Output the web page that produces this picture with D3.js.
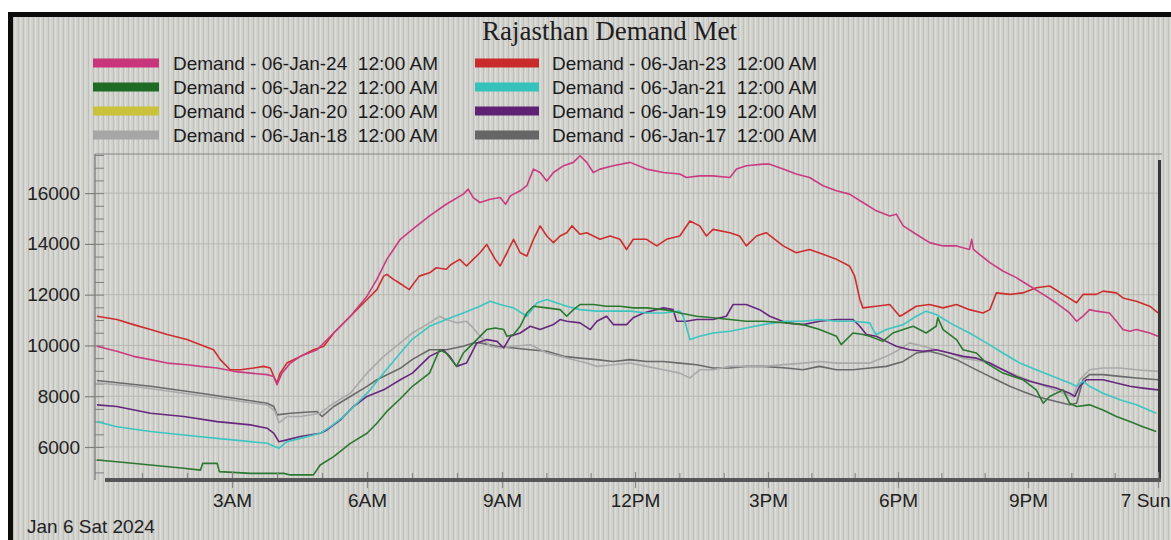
<!DOCTYPE html>
<html><head><meta charset="utf-8">
<script src="https://cdn.jsdelivr.net/npm/d3@7"></script>
<style>html,body{margin:0;padding:0;background:#fff;overflow:hidden}svg{display:block}</style>
</head><body>
<svg id="chart" width="1171" height="540"></svg>
<script>
// ---------- DATA ----------
const chartTitle = "Rajasthan Demand Met";
const dateLabel = "Jan 6 Sat 2024";
const legendLeft = ["Demand - 06-Jan-24  12:00 AM","Demand - 06-Jan-22  12:00 AM","Demand - 06-Jan-20  12:00 AM","Demand - 06-Jan-18  12:00 AM"];
const legendRight = ["Demand - 06-Jan-23  12:00 AM","Demand - 06-Jan-21  12:00 AM","Demand - 06-Jan-19  12:00 AM","Demand - 06-Jan-17  12:00 AM"];
const xTickHours = [3,6,9,12,15,18,21,24];
const xTickLabels = ["3AM","6AM","9AM","12PM","3PM","6PM","9PM","7 Sun"];
const yTickValues = [6000,8000,10000,12000,14000,16000];

// [hour of day, MW]
const demand2024 = [[0,9965],[0.44,9770],[0.81,9570],[1.19,9440],[1.56,9305],[2,9240],[2.3,9175],[2.67,9110],[3.04,8980],[3.41,8910],[3.78,8850],[3.93,8780],[4,8450],[4.11,8910],[4.3,9305],[4.52,9570],[4.89,9830],[5.26,10490],[5.63,11150],[6,11940],[6.22,12600],[6.44,13390],[6.74,14180],[7.01,14570],[7.39,15100],[7.76,15560],[8.14,15960],[8.25,16155],[8.36,15825],[8.51,15630],[8.74,15760],[8.96,15825],[9.08,15560],[9.19,15890],[9.41,16090],[9.56,16290],[9.71,16945],[9.86,16810],[10.01,16480],[10.16,16810],[10.39,17080],[10.61,17210],[10.76,17470],[10.91,17210],[11.06,16810],[11.21,16945],[11.51,17080],[11.89,17210],[12.26,16945],[12.64,16810],[13.01,16750],[13.16,16615],[13.46,16680],[13.76,16680],[14.14,16615],[14.29,16945],[14.51,17080],[14.89,17140],[15.04,17140],[15.35,16945],[15.65,16750],[15.96,16615],[16.27,16290],[16.58,16090],[16.88,15960],[17.19,15630],[17.5,15300],[17.81,15100],[17.96,15170],[18.12,14710],[18.42,14380],[18.73,14050],[19.04,13920],[19.35,13920],[19.65,13780],[19.7,14180],[19.74,13780],[19.88,13590],[20.12,13260],[20.42,12930],[20.73,12670],[21.04,12340],[21.35,12010],[21.65,11680],[21.96,11280],[22.12,10950],[22.27,11150],[22.42,11410],[22.58,11350],[22.88,11280],[23.04,10950],[23.19,10625],[23.35,10560],[23.5,10625],[23.81,10490],[24,10360]];
const demand2023 = [[0,11150],[0.44,11020],[0.81,10820],[1.19,10625],[1.56,10430],[2,10230],[2.3,10030],[2.59,9830],[2.74,9440],[2.96,9040],[3.19,9040],[3.48,9110],[3.7,9175],[3.85,9110],[3.96,8650],[4,8520],[4.07,8910],[4.22,9305],[4.52,9570],[4.81,9830],[5.04,9965],[5.26,10490],[5.63,11150],[6,11810],[6.22,12200],[6.37,12730],[6.44,12800],[6.59,12600],[6.71,12470],[6.94,12200],[7.16,12730],[7.39,12860],[7.54,13060],[7.76,13000],[7.87,13190],[8.06,13390],[8.21,13130],[8.36,13390],[8.51,13650],[8.66,13980],[8.85,13390],[8.96,13130],[9.11,13650],[9.26,14180],[9.41,13650],[9.56,13520],[9.71,14180],[9.86,14710],[10.01,14310],[10.16,14050],[10.31,14310],[10.46,14440],[10.58,14710],[10.76,14380],[10.91,14440],[11.06,14310],[11.21,14180],[11.44,14310],[11.66,14180],[11.81,13780],[11.96,14180],[12.26,14180],[12.49,13920],[12.71,14180],[13.01,14310],[13.24,14900],[13.46,14710],[13.61,14310],[13.76,14570],[14.14,14440],[14.36,14310],[14.51,13920],[14.74,14310],[14.96,14440],[15.35,13920],[15.65,13650],[15.96,13780],[16.27,13590],[16.58,13390],[16.88,13130],[17,12730],[17.12,11810],[17.19,11480],[17.5,11545],[17.81,11610],[18.04,11150],[18.12,11220],[18.42,11545],[18.73,11610],[19.04,11480],[19.35,11610],[19.65,11410],[19.96,11280],[20.12,11410],[20.27,12070],[20.58,12010],[20.88,12070],[21.19,12270],[21.5,12340],[21.81,12010],[22.12,11680],[22.27,12010],[22.58,12010],[22.73,12140],[23.04,12070],[23.19,11870],[23.5,11740],[23.81,11545],[24,11280]];
const demand2022 = [[0,5490],[0.44,5420],[1.19,5290],[1.93,5160],[2.3,5090],[2.35,5355],[2.67,5355],[2.72,5030],[3.41,4960],[4.15,4960],[4.3,4900],[4.81,4900],[4.96,5290],[5.26,5620],[5.63,6145],[6,6540],[6.22,6935],[6.44,7400],[6.74,7900],[7.01,8390],[7.39,8910],[7.61,9830],[7.76,9700],[7.99,9175],[8.14,9700],[8.29,9965],[8.44,10230],[8.66,10625],[8.85,10690],[9.04,10625],[9.11,10360],[9.26,10430],[9.41,10755],[9.56,11280],[9.71,11545],[10.01,11480],[10.31,11410],[10.46,11150],[10.61,11410],[10.76,11610],[11.06,11610],[11.36,11545],[11.66,11545],[11.96,11480],[12.26,11480],[12.64,11410],[12.86,11350],[13.01,11280],[13.39,11150],[13.76,11090],[14.14,11020],[14.51,10950],[14.89,10950],[15.42,10890],[15.81,10820],[16.19,10625],[16.58,10360],[16.69,10030],[16.96,10490],[17.19,10430],[17.35,10360],[17.65,10160],[17.88,10490],[18.12,10625],[18.35,10755],[18.65,10490],[18.88,10755],[18.92,11090],[19.04,10625],[19.35,10230],[19.5,9830],[19.81,9700],[20.04,9305],[20.42,8910],[20.88,8650],[21.19,8250],[21.35,7725],[21.5,7990],[21.81,8250],[21.96,7725],[22.12,7595],[22.42,7660],[22.73,7460],[23.04,7200],[23.35,7000],[23.65,6800],[23.96,6610]];
const demand2021 = [[0,7000],[0.44,6800],[1.19,6610],[1.93,6475],[2.67,6340],[3.41,6210],[3.78,6145],[4.04,5950],[4.22,6210],[4.52,6340],[4.96,6540],[5.19,6800],[5.48,7200],[5.78,7725],[6.07,8250],[6.37,8910],[6.74,9700],[7.01,10250],[7.39,10755],[7.76,11020],[8.14,11280],[8.51,11545],[8.74,11740],[8.96,11610],[9.26,11480],[9.56,11150],[9.79,11680],[10.01,11810],[10.46,11545],[10.76,11410],[11.14,11350],[11.51,11350],[11.89,11350],[12.26,11280],[12.64,11280],[13.01,11350],[13.09,11150],[13.24,10230],[13.46,10360],[13.76,10490],[14.14,10560],[14.51,10690],[14.89,10820],[15.42,10950],[15.81,10950],[16.19,11020],[16.58,10950],[16.96,10950],[17.35,10890],[17.42,10625],[17.5,10430],[17.73,10625],[18.12,10820],[18.42,11150],[18.65,11350],[18.88,11220],[19.27,10820],[19.65,10490],[20.04,10100],[20.42,9700],[20.81,9305],[21.19,9040],[21.58,8780],[21.96,8520],[22.12,8390],[22.27,8590],[22.42,8390],[22.73,8120],[23.12,7860],[23.5,7660],[23.96,7330]];
const demand2020 = [];
const demand2019 = [[0,7660],[0.44,7595],[1.19,7330],[1.93,7200],[2.67,7000],[3.41,6870],[3.78,6740],[3.93,6540],[4.04,6210],[4.22,6280],[4.52,6410],[4.96,6540],[5.11,6670],[5.41,7070],[5.7,7595],[6,7990],[6.37,8250],[6.74,8650],[7.01,8910],[7.39,9570],[7.69,9830],[7.84,9570],[7.99,9175],[8.21,9305],[8.44,10100],[8.66,10230],[8.89,10160],[9.04,9900],[9.19,10360],[9.41,10490],[9.64,10755],[9.86,10625],[10.16,10820],[10.31,11020],[10.46,10950],[10.76,10890],[10.99,10625],[11.14,10950],[11.36,11150],[11.51,10820],[11.81,10820],[11.96,11090],[12.19,11280],[12.64,11480],[12.86,11410],[12.94,10950],[13.16,10950],[13.39,11020],[13.76,11020],[14.06,11150],[14.21,11610],[14.51,11610],[14.81,11410],[15.04,11150],[15.42,10890],[15.81,10820],[16.19,10950],[16.58,11020],[16.96,11020],[17.12,10755],[17.27,10430],[17.5,10360],[17.73,10160],[17.96,9965],[18.27,9830],[18.58,9770],[18.88,9830],[19.19,9700],[19.5,9570],[19.81,9500],[20.12,9305],[20.42,9040],[20.73,8780],[21.04,8590],[21.35,8450],[21.65,8320],[21.96,8120],[22.08,7990],[22.19,8390],[22.35,8650],[22.73,8650],[23.04,8520],[23.35,8390],[23.65,8320],[24,8250]];
const demand2018 = [[0,8520],[0.81,8390],[1.93,8120],[2.7,7920],[3.78,7660],[3.96,7400],[4.04,6950],[4.22,7200],[4.52,7200],[4.96,7330],[5.26,7725],[5.63,8120],[6,8910],[6.37,9570],[6.74,10100],[7.01,10490],[7.39,10890],[7.61,11150],[7.76,11020],[7.99,10890],[8.21,10950],[8.36,10690],[8.51,10360],[8.74,9965],[8.96,9900],[9.26,9965],[9.64,10030],[10.01,9700],[10.31,9570],[10.61,9440],[10.91,9305],[11.14,9175],[11.51,9240],[11.89,9305],[12.26,9175],[12.64,9040],[13.01,8910],[13.24,8720],[13.46,9040],[13.76,9040],[14.14,9175],[14.89,9175],[15.81,9305],[16.19,9370],[16.58,9305],[17.35,9305],[17.73,9570],[17.96,9770],[18.27,10100],[18.58,9965],[18.88,9830],[19.19,9700],[19.5,9500],[19.96,9370],[20.42,9040],[20.88,8720],[21.19,8520],[21.5,8320],[21.81,8120],[22.04,7990],[22.19,8650],[22.42,9040],[22.73,9110],[23.12,9110],[23.5,9040],[24,8980]];
const demand2017 = [[0,8620],[1.19,8390],[2.3,8120],[3.04,7920],[3.78,7725],[3.93,7595],[4,7265],[4.3,7330],[4.89,7400],[5,7200],[5.26,7595],[5.63,7990],[6,8390],[6.22,8650],[6.74,9100],[7.01,9450],[7.39,9830],[7.76,9830],[8.14,9965],[8.36,10100],[8.51,10100],[8.89,9965],[9.26,9900],[9.64,9830],[10.01,9770],[10.39,9570],[10.76,9500],[11.14,9440],[11.51,9370],[11.89,9440],[12.26,9370],[12.64,9370],[13.01,9305],[13.39,9240],[13.76,9110],[14.14,9110],[14.51,9175],[14.89,9175],[15.42,9110],[15.81,9040],[16.19,9175],[16.58,9040],[16.96,9040],[17.35,9110],[17.73,9175],[18.12,9370],[18.42,9700],[18.73,9770],[19.04,9635],[19.35,9440],[19.65,9175],[19.96,8910],[20.27,8650],[20.58,8390],[20.88,8190],[21.19,7990],[21.65,7790],[21.96,7660],[22.12,7725],[22.27,8650],[22.42,8850],[22.73,8850],[23.12,8780],[23.5,8720],[24,8650]];

// ---------- STYLE ----------
const colLeft = ["#c8357a","#1f6b25","#c9c23a","#a6a6a6"];
const colRight = ["#c92b2b","#35c2bd","#5e2173","#666666"];
const seriesDraw = [
  {d:demand2017,c:"#6a6a6a"},{d:demand2018,c:"#a9a9a9"},{d:demand2020,c:"#c9c23a"},
  {d:demand2019,c:"#66287c"},{d:demand2021,c:"#3cc6c1"},{d:demand2022,c:"#2b7830"},
  {d:demand2023,c:"#cc2e2e"},{d:demand2024,c:"#c93c80"}
];
const sans = "'Liberation Sans', Arial, sans-serif";

const svg = d3.select("#chart");
const defs = svg.append("defs");
const pat = defs.append("pattern").attr("id","stripes").attr("width",5).attr("height",10).attr("patternUnits","userSpaceOnUse");
pat.append("rect").attr("width",5).attr("height",10).attr("fill","#d1d1cd");
pat.append("rect").attr("x",0).attr("width",1).attr("height",10).attr("fill","#deded9");
pat.append("rect").attr("x",3).attr("width",1).attr("height",10).attr("fill","#bfbfbb");

svg.append("rect").attr("width",1171).attr("height",540).attr("fill","#ffffff");
svg.append("rect").attr("x",8).attr("y",12).attr("width",1171).attr("height",540).attr("fill","#0c0c0c");
svg.append("rect").attr("x",13).attr("y",17).attr("width",1171).attr("height",540).attr("fill","url(#stripes)");

const L=95, R=1160, T=154, B=480;
const x = d3.scaleLinear().domain([0,3,6,9,12,15,18,21,24]).range([97,232,367,502,635,768,898,1028,1158]);
const y = d3.scaleLinear().domain([4700,17540]).range([B,T]);

// title
svg.append("text").attr("x",482).attr("y",40).attr("font-family","'Liberation Serif','Times New Roman',serif")
  .attr("font-size",27).attr("fill","#1e1e1e").text(chartTitle);

// legend
function legendCol(labels, colors, sx, sw, tx){
  labels.forEach((t,i)=>{
    const cy = 63 + i*24;
    svg.append("rect").attr("x",sx).attr("y",cy-4.5).attr("width",sw).attr("height",9).attr("fill",colors[i]);
    svg.append("text").attr("x",tx).attr("y",cy+6.5).attr("font-family",sans).attr("font-size",19)
      .attr("fill","#1c1c1c").attr("xml:space","preserve").style("white-space","pre").text(t);
  });
}
legendCol(legendLeft, colLeft, 93, 66, 173);
legendCol(legendRight, colRight, 475, 64, 552);

// gridlines
svg.append("g").selectAll("line").data(yTickValues).join("line")
  .attr("x1",L).attr("x2",R).attr("y1",d=>y(d)).attr("y2",d=>y(d))
  .attr("stroke","#b8b8b4").attr("stroke-width",1);

// frame
svg.append("line").attr("x1",L).attr("x2",R+2).attr("y1",T).attr("y2",T).attr("stroke","#858585").attr("stroke-width",1.2);
svg.append("line").attr("x1",L).attr("x2",L).attr("y1",T).attr("y2",B).attr("stroke","#858585").attr("stroke-width",1.5);

// y axis
const minorY = d3.range(5000,17501,500);
const yMinor = svg.append("g").attr("transform",`translate(${L},0)`)
  .call(d3.axisLeft(y).tickValues(minorY).tickSize(-9).tickFormat(""));
yMinor.select(".domain").remove();
yMinor.selectAll("line").attr("stroke","#808080");
const yAxis = svg.append("g").attr("transform",`translate(${L},0)`)
  .call(d3.axisLeft(y).tickValues(yTickValues).tickSize(10).tickPadding(5).tickFormat(d3.format("d")));
yAxis.select(".domain").remove();
yAxis.selectAll("line").attr("stroke","#808080").attr("stroke-width",1.2);
yAxis.selectAll("text").attr("font-family",sans).attr("font-size",19).attr("fill","#222");

// lines
const line = d3.line().x(d=>x(d[0])).y(d=>y(d[1]));
svg.append("g").selectAll("path").data(seriesDraw.filter(s=>s.d.length)).join("path")
  .attr("d",s=>line(s.d)).attr("fill","none").attr("stroke",s=>s.c)
  .attr("stroke-width",1.6).attr("stroke-linejoin","round");

// right frame + bottom axis
svg.append("line").attr("x1",1159.5).attr("x2",1159.5).attr("y1",T+6).attr("y2",B+2).attr("stroke","#383838").attr("stroke-width",3);
const minorX = d3.range(1,24).filter(h=>h%3!==0);
const xMinor = svg.append("g").attr("transform",`translate(0,${B})`)
  .call(d3.axisBottom(x).tickValues(minorX).tickSize(-7).tickFormat(""));
xMinor.select(".domain").remove();
xMinor.selectAll("line").attr("stroke","#8a8a8a").attr("stroke-width",1.2);
const xAxis = svg.append("g").attr("transform",`translate(0,${B})`)
  .call(d3.axisBottom(x).tickValues(xTickHours).tickSizeInner(8).tickSizeOuter(0).tickFormat((d,i)=>xTickLabels[i]));
xAxis.select(".domain").remove();
xAxis.selectAll("line").attr("stroke","#8a8a8a").attr("stroke-width",1.2).attr("y1",-8);
xAxis.selectAll("text").attr("font-family",sans).attr("font-size",19).attr("fill","#222").attr("y",27).attr("dy",0);
// keep the last label inside the picture
xAxis.selectAll(".tick").filter(d=>d===24).select("text").attr("text-anchor","end").attr("x",12);
svg.append("line").attr("x1",105).attr("x2",1161).attr("y1",B).attr("y2",B).attr("stroke","#565656").attr("stroke-width",4);

// date label
svg.append("text").attr("x",27).attr("y",533).attr("font-family",sans).attr("font-size",19).attr("fill","#222").text(dateLabel);
</script>
</body></html>
